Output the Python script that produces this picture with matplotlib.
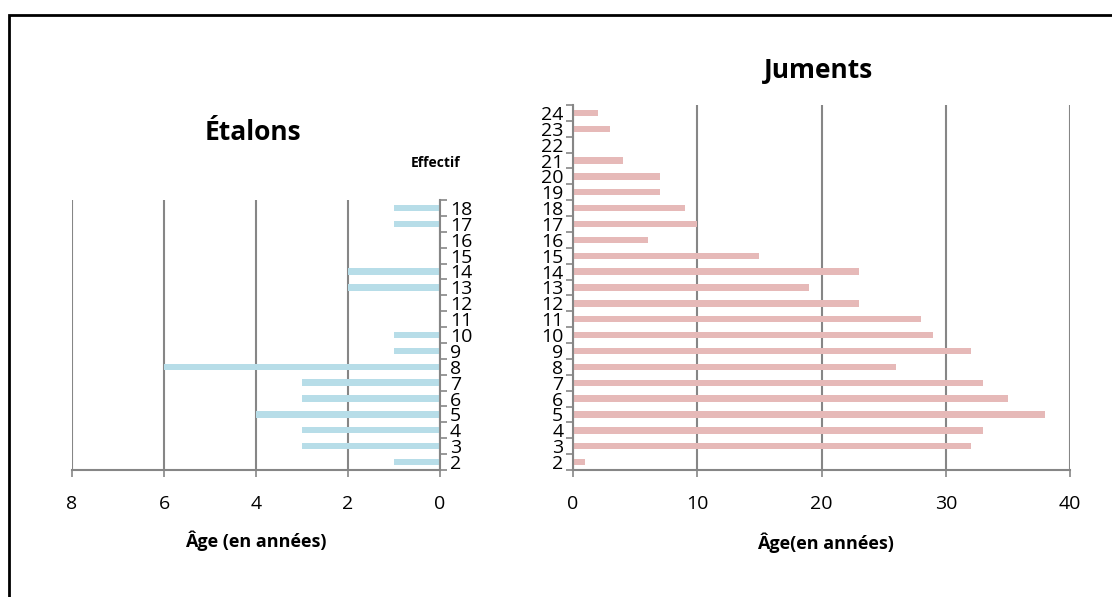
import matplotlib.pyplot as plt
from matplotlib.patches import Rectangle

# data
ages_etalons = list(range(2, 19))
effectif_etalons = [1, 3, 3, 4, 3, 3, 6, 1, 1, 0, 0, 2, 2, 0, 0, 1, 1]
ages_juments = list(range(2, 25))
effectif_juments = [1, 32, 33, 38, 35, 33, 26, 32, 29, 28, 23, 19, 23, 15, 6, 10, 9, 7, 7, 4, 0, 3, 2]

grey = '#868686'
W, H = 1112, 597
tick_font = ['Liberation Sans Narrow', 'Open Sans', 'DejaVu Sans']

fig = plt.figure(figsize=(11.12, 5.97), dpi=100)
plt.rcParams['font.family'] = ['Open Sans', 'DejaVu Sans']

def fx(px):
    return px / W

def fy(py):
    return 1 - py / H

# outer frame (right and bottom edges fall outside the picture)
fig.patches.append(Rectangle((fx(9), -0.05), 1.0, fy(15) + 0.05,
                             transform=fig.transFigure, fill=False,
                             edgecolor='black', linewidth=2))


def style_axis(ax, cats, ylabel_side):
    for s in ['top', 'left', 'right', 'bottom']:
        ax.spines[s].set_visible(False)
    ax.spines['bottom'].set_visible(True)
    ax.spines['bottom'].set_color(grey)
    ax.spines['bottom'].set_linewidth(1.5)
    ax.spines[ylabel_side].set_visible(True)
    ax.spines[ylabel_side].set_color(grey)
    ax.spines[ylabel_side].set_linewidth(1.5)
    ax.set_ylim(cats[0] - 0.5, cats[-1] + 0.5)
    ax.set_yticks(cats)
    ax.set_yticks([c + 0.5 for c in cats[:-1]] + [cats[0] - 0.5, cats[-1] + 0.5], minor=True)
    ax.tick_params(axis='y', which='major', length=0, labelsize=14, pad=7)
    ax.tick_params(axis='y', which='minor', length=5, color=grey, width=1.2)
    ax.tick_params(axis='x', which='major', length=5, color=grey, width=1.2,
                   labelsize=14, pad=13)
    for lab in ax.get_xticklabels() + ax.get_yticklabels():
        lab.set_family(tick_font)
    ax.xaxis.grid(True, color=grey, linewidth=1.5)
    ax.set_axisbelow(True)


# Étalons
ax1 = fig.add_axes([fx(72), fy(470), fx(440) - fx(72), fy(200) - fy(470)])
ax1.barh(ages_etalons, effectif_etalons, height=0.4, color='#B7DDE8')
ax1.set_xlim(8, 0)
ax1.set_xticks([8, 6, 4, 2, 0])
ax1.yaxis.tick_right()
style_axis(ax1, ages_etalons, 'right')
ax1.tick_params(axis='y', which='both', right=True, left=False)
fig.text(fx(253), fy(132), 'Étalons', fontsize=19, fontweight='bold', ha='center', va='center')
fig.text(fx(436), fy(163), 'Effectif', fontsize=10, fontweight='bold', ha='center', va='center')
fig.text(fx(256), fy(541), 'Âge (en années)', fontsize=13, fontweight='bold', ha='center', va='center')

# Juments
ax2 = fig.add_axes([fx(573), fy(470), fx(1070) - fx(573), fy(105) - fy(470)])
ax2.barh(ages_juments, effectif_juments, height=0.4, color='#E6B9B8')
ax2.set_xlim(0, 40)
ax2.set_xticks([0, 10, 20, 30, 40])
style_axis(ax2, ages_juments, 'left')
fig.text(fx(819), fy(71), 'Juments', fontsize=19, fontweight='bold', ha='center', va='center')
fig.text(fx(825), fy(543), 'Âge(en années)', fontsize=13, fontweight='bold', ha='center', va='center')

fig.savefig('out.png', dpi=100)
